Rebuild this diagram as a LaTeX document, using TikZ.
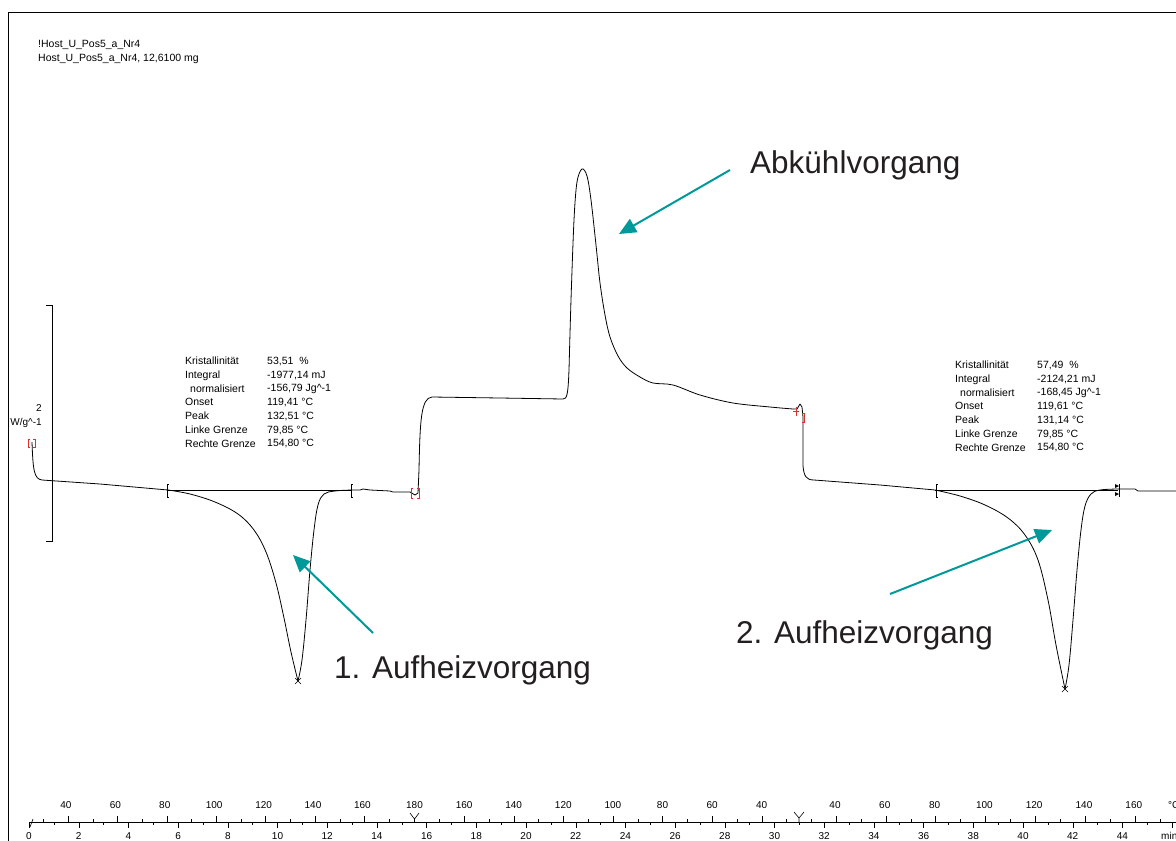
\documentclass[tikz,border=0pt]{standalone}
\usepackage{fontspec}
\setmainfont{Liberation Sans}
\usetikzlibrary{arrows.meta}
\definecolor{petrol}{RGB}{0,153,153}
\definecolor{textgrau}{RGB}{35,31,32}
\definecolor{markrot}{RGB}{225,45,45}

\begin{document}
\begin{tikzpicture}[x=1pt,y=-1pt,
  klein/.style={font=\fontsize{10.5}{13.7}\selectfont, inner sep=0pt, align=left},
  achse/.style={font=\fontsize{10}{12}\selectfont, inner sep=0pt},
  gross/.style={font=\fontsize{31.5}{36}\selectfont, text=textgrau, inner sep=0pt},
  pfeil/.style={petrol, line width=2pt, -{Triangle[length=17pt,width=15pt]}},
  kurve/.style={line width=0.8pt, line join=round}]
\useasboundingbox (0,0) rectangle (1176,841);
\draw[line width=0.8pt] (8,841) -- (8,12) -- (1176,12);

% Kopfzeilen
\node[klein, anchor=west] (kopf) at (38,52) {!Host\_U\_Pos5\_a\_Nr4\\Host\_U\_Pos5\_a\_Nr4, 12,6100 mg};

% Skalenbalken
\draw[line width=0.8pt] (46,305) -- (52,305) -- (52,541) -- (46,541);
\node[achse] (skala) at (39,408) {2};
\node[achse] (einheit) at (26,423) {W/g\textasciicircum-1};

% Messkurve
\draw[kurve] (32,442) .. controls (33,470) and (34,479) .. (42,480) -- (100,484) -- (168,490);
\draw[kurve] plot[smooth, tension=0.6] coordinates {(168,490) (190,494) (215,502) (238,514) (254,530) (266,552) (276,583) (284,618) (291,652) (298,681)};
\draw[kurve] plot[smooth, tension=0.6] coordinates {(298,681) (302,660) (306,620) (310,570) (314,530) (318,505) (324,494) (335,491) (352,490)};
\draw[kurve] (352,490) -- (360,490) -- (363,489) -- (370,490) -- (390,491) -- (393,492) -- (410,492) -- (415,495)
  -- (418,493) -- (419,470) .. controls (420,420) and (421,398) .. (432,397) -- (500,398) -- (563,399)
  .. controls (567,399) and (568,395) .. (569,370);
\draw[kurve] plot[smooth, tension=0.55] coordinates {(569,370) (571,300) (574,220) (577,182) (582,169) (587,176) (591,200) (596,245) (600,283) (605,315) (610,337) (618,356) (627,368) (640,377) (653,383) (673,385) (700,395) (733,403) (770,407) (793,409)};
\draw[kurve] (793,409) -- (797,409) -- (800,404) -- (802,407) -- (803,417) -- (803,466)
  .. controls (804,476) and (806,480) .. (814,480) -- (880,485) -- (935,490);
\draw[kurve] plot[smooth, tension=0.6] coordinates {(935,490) (960,496) (985,505) (1008,518) (1025,535) (1038,560) (1048,600) (1056,645) (1065,689)};
\draw[kurve] plot[smooth, tension=0.6] coordinates {(1065,689) (1069,665) (1073,620) (1077,570) (1081,530) (1085,506) (1091,494) (1100,490) (1118,489)};
\draw[kurve] (1118,489) -- (1135,489) -- (1138,491) -- (1176,491);

% Basislinien und Grenzen
\draw[line width=0.8pt] (168,490) -- (352,490);
\draw[line width=0.8pt] (935,490) -- (1118,490);
\foreach \gx in {167,351,936} {
  \draw[line width=0.8pt] (\gx,484) -- (\gx,497);
  \draw[line width=0.8pt] (\gx,484) -- ++(2,0) (\gx,497) -- ++(2,0);
}
\fill (1119,486) -- (1115,484) -- (1115,488) -- cycle;
\fill (1119,494) -- (1115,492) -- (1115,496) -- cycle;
\draw[line width=0.6pt] (1119,484) -- (1119,497);
\foreach \px/\py in {298/681,1065/689} {
  \draw[line width=0.6pt] (\px-3,\py-3) -- (\px+3,\py+3) (\px-3,\py+3) -- (\px+3,\py-3);
}

% rote Markierungen
\draw[markrot, line width=0.6pt] (30,439) -- (28,439) -- (28,447) -- (30,447);
\draw[markrot, line width=0.6pt] (33,439) -- (35,439) -- (35,447) -- (33,447);
\draw[markrot, line width=0.6pt] (413,488) -- (411,488) -- (411,498) -- (413,498);
\draw[markrot, line width=0.6pt] (417,488) -- (419,488) -- (419,498) -- (417,498);
\draw[markrot, line width=0.6pt] (796,407) -- (796,416) (793,411) -- (799,411);
\draw[markrot, line width=0.6pt] (802,413) -- (804,413) -- (804,422) -- (802,422);

% Auswertungen
\node[klein, anchor=north west] (name1) at (185,357) {Kristallinität\\Integral\\\hspace{5pt}normalisiert\\Onset\\Peak\\Linke Grenze\\Rechte Grenze};
\node[klein, anchor=north west] (wert1) at (267,357) {53,51\ \ \%\\-1977,14 mJ\\-156,79 Jg\textasciicircum-1\\119,41 °C\\132,51 °C\\79,85 °C\\154,80 °C};
\node[klein, anchor=north west] (name2) at (955,361) {Kristallinität\\Integral\\\hspace{5pt}normalisiert\\Onset\\Peak\\Linke Grenze\\Rechte Grenze};
\node[klein, anchor=north west] (wert2) at (1037,361) {57,49\ \ \%\\-2124,21 mJ\\-168,45 Jg\textasciicircum-1\\119,61 °C\\131,14 °C\\79,85 °C\\154,80 °C};

% Beschriftungen mit Pfeilen
\node[gross, anchor=base west] (abk) at (750,173) {Abkühlvorgang};
\node[gross, anchor=base west] (auf1) at (334,678) {1. Aufheizvorgang};
\node[gross, anchor=base west] (auf2) at (736,643) {2. Aufheizvorgang};
\coordinate (abk von) at (730,170);
\coordinate (abk nach) at (619,234);
\coordinate (auf1 von) at (373,633);
\coordinate (auf1 nach) at (293,555);
\coordinate (auf2 von) at (890,594);
\coordinate (auf2 nach) at (1052,530);
\draw[pfeil] (abk von) -- (abk nach);
\draw[pfeil] (auf1 von) -- (auf1 nach);
\draw[pfeil] (auf2 von) -- (auf2 nach);

% Zeit- und Temperaturachse
\draw[line width=0.8pt] (30,822) -- (1176,822);
\draw[line width=0.6pt] (30,827) -- (33,819);
\foreach \m in {1,3,...,45} \draw ({29+24.85*\m},822) -- ++(0,3);
\foreach \m in {0,2,...,46} \draw ({29+24.85*\m},822) -- ++(0,6);
\foreach \m in {0,2,...,44} \node[achse] (t\m) at ({29+24.85*\m},836) {\m};
\node[achse, anchor=west] (tmin) at (1161,836) {min};
\foreach \t in {30,50,...,170} {
  \draw ({68+2.47*(\t-40)},822) -- ++(0,-3);
  \draw ({414.5+2.48*(180-\t)},822) -- ++(0,-3);
  \draw ({836+2.49*(\t-40)},822) -- ++(0,-3);
}
\foreach \t in {40,60,...,160} {
  \draw ({68+2.47*(\t-40)},822) -- ++(0,-6);
  \draw ({414.5+2.48*(180-\t)},822) -- ++(0,-6);
  \draw ({836+2.49*(\t-40)},822) -- ++(0,-6);
  \node[achse] (ta\t) at ({66+2.47*(\t-40)},805) {\t};
  \node[achse] (tb\t) at ({414.5+2.48*(180-\t)},805) {\t};
  \node[achse] (tc\t) at ({835+2.49*(\t-40)},805) {\t};
}
\node[achse] (tb180) at (414.5,805) {180};
\node[achse, anchor=west] (tgrad) at (1168,805) {°C};
\draw[line width=0.6pt] (410,813) -- (414.5,819) -- (419,813) (414.5,819) -- (414.5,822);
\draw[line width=0.6pt] (794,812) -- (799,818) -- (804,812) (799,818) -- (799,822);
\end{tikzpicture}
\end{document}
